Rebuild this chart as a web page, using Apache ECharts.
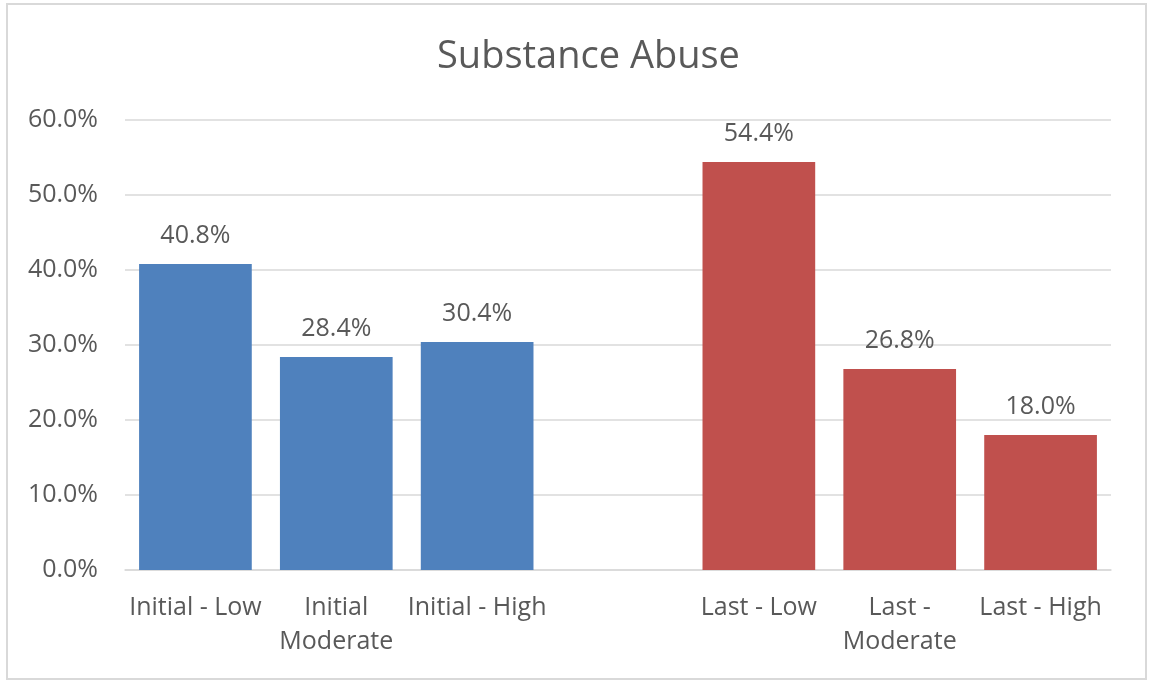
<!DOCTYPE html>
<html lang="en">
<head>
  <meta charset="UTF-8">
  <title>Substance Abuse</title>
  <style>
    html, body { margin: 0; padding: 0; background: #fff; }
    #chart { width: 1153px; height: 685px; }
  </style>
</head>
<body>
  <div id="chart"></div>
  <script src="https://cdn.jsdelivr.net/npm/echarts@6/dist/echarts.min.js"></script>
  <script>
    // categories (one blank slot between the two groups)
    var categories = ['Initial - Low', 'Initial\nModerate', 'Initial - High', '', 'Last - Low', 'Last -\nModerate', 'Last - High'];
    // values in percent
    var initialValues = [40.8, 28.4, 30.4, '-', '-', '-', '-'];
    var lastValues = ['-', '-', '-', '-', 54.4, 26.8, 18.0];
    var yTicks = { min: 0, max: 60, interval: 10 };

    var textColor = '#595959';
    var font = 'Open Sans';

    var chart = echarts.init(document.getElementById('chart'));

    var labelOpt = {
      show: true,
      position: 'top',
      distance: 16,
      color: textColor,
      fontFamily: font,
      fontSize: 25,
      formatter: function (p) { return p.value.toFixed(1) + '%'; }
    };

    var option = {
      animation: false,
      title: {
        text: 'Substance Abuse',
        left: 432,
        top: 33,
        textStyle: { color: textColor, fontFamily: font, fontSize: 38, fontWeight: 'normal' }
      },
      graphic: [{
        type: 'rect',
        shape: { x: 7, y: 4, width: 1139, height: 675 },
        style: { fill: 'none', stroke: '#d9d9d9', lineWidth: 2 },
        silent: true
      }],
      grid: { left: 125, right: 42, top: 120, bottom: 115 },
      xAxis: {
        type: 'category',
        data: categories,
        axisTick: { show: false },
        axisLine: { lineStyle: { color: '#d9d9d9', width: 1.5 } },
        axisLabel: {
          color: textColor, fontFamily: font, fontSize: 25, margin: 21,
          lineHeight: 34, interval: 0
        }
      },
      yAxis: {
        type: 'value',
        min: yTicks.min,
        max: yTicks.max,
        interval: yTicks.interval,
        axisLine: { show: false },
        axisTick: { show: false },
        splitLine: { lineStyle: { color: '#d9d9d9', width: 1.5 } },
        axisLabel: {
          color: textColor, fontFamily: font, fontSize: 25, margin: 27,
          formatter: function (v) { return v.toFixed(1) + '%'; }
        }
      },
      series: [{
        name: 'Initial',
        type: 'bar',
        stack: 'all',
        barCategoryGap: '20%',
        data: initialValues,
        itemStyle: { color: '#4f81bd' },
        label: labelOpt
      }, {
        name: 'Last',
        type: 'bar',
        stack: 'all',
        barCategoryGap: '20%',
        data: lastValues,
        itemStyle: { color: '#c0504d' },
        label: labelOpt
      }]
    };
    chart.setOption(option);
  </script>
</body>
</html>
